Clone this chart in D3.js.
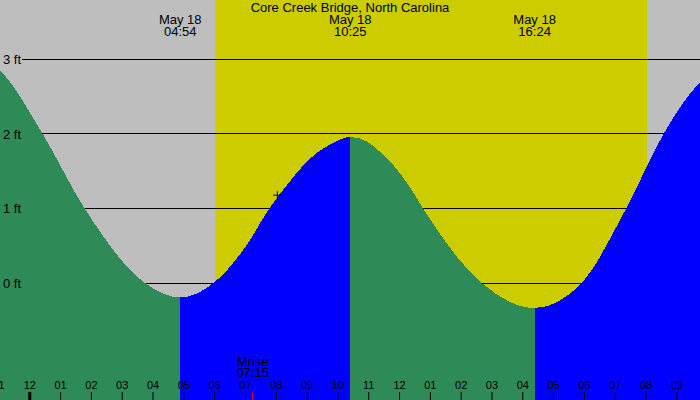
<!DOCTYPE html>
<html>
<head>
<meta charset="utf-8">
<script src="https://cdn.jsdelivr.net/npm/d3@7"></script>
<style>
  body { margin: 0; background: #fff; }
  svg { display: block; }
  text { font-family: "Liberation Sans", Arial, sans-serif; fill: #000; }
  .axis text { font-size: 11px; }
</style>
</head>
<body>
<svg id="chart"></svg>
<script>
// station
const title = "Core Creek Bridge, North Carolina";

// tide curve (time, feet); first and last points sit just outside the view
const tideTimes = ["05-17 21:55", "05-17 23:03", "05-18 00:26", "05-18 01:48", "05-18 03:46",
    "05-18 04:54", "05-18 05:58", "05-18 07:03", "05-18 07:47", "05-18 08:27", "05-18 09:03",
    "05-18 09:46", "05-18 10:25", "05-18 10:57", "05-18 11:23", "05-18 11:49", "05-18 12:21",
    "05-18 12:47", "05-18 13:26", "05-18 13:58", "05-18 14:42", "05-18 16:24", "05-18 17:55",
    "05-18 19:22", "05-18 20:35", "05-18 21:46", "05-18 23:20"];
const tideFeet = [3.08, 2.85, 2.0, 1.0, 0.0,
    -0.19, 0.0, 0.51, 1.0, 1.36, 1.65,
    1.86, 1.96, 1.90, 1.76, 1.58, 1.29,
    1.0, 0.60, 0.31, 0.0, -0.33, 0.0,
    1.0, 2.0, 2.69, 3.0];

// high / low tides
const extremeTimes = ["05-18 04:54", "05-18 10:25", "05-18 16:24"];
const extremeType = ["low", "high", "low"];

// sun and moon
const sunTimes = ["05-18 06:01", "05-18 20:03"];
const moonriseTime = "05-18 07:15";
const moonLabel = "Mrise";

// current time marker
const nowTime = "05-18 08:03";
const nowFeet = 1.18;

// axes
const viewTimes = ["05-17 23:03", "05-18 21:46"];
const firstHourTick = "05-17 23:00";
const feetTicks = [0, 1, 2, 3];

const width = 700, height = 400;
const parse = d3.timeParse("%m-%d %H:%M");

const tide = tideTimes.map((t, i) => ({ t: parse(t), h: tideFeet[i] }));
const extremes = extremeTimes.map((t, i) => ({ t: parse(t), type: extremeType[i] }));

const svg = d3.select("#chart")
    .attr("width", width)
    .attr("height", height);

const x = d3.scaleTime()
    .domain(viewTimes.map(parse))
    .range([0, width]);

const y = d3.scaleLinear()
    .domain([0, 3])
    .range([283.3, 59.3]);

// night background, then daylight band
svg.append("rect")
    .attr("width", width)
    .attr("height", height)
    .attr("fill", "#bebebe");

svg.append("rect")
    .attr("x", Math.round(x(parse(sunTimes[0]))))
    .attr("width", Math.round(x(parse(sunTimes[1]))) - Math.round(x(parse(sunTimes[0]))))
    .attr("height", height)
    .attr("fill", "#cccc00");

// gridlines (sit under the water)
svg.append("g")
    .selectAll("line")
    .data(feetTicks)
    .join("line")
    .attr("x1", 22)
    .attr("x2", width)
    .attr("y1", d => y(d))
    .attr("y2", d => y(d))
    .attr("stroke", "#000")
    .attr("shape-rendering", "crispEdges");

// water: green while falling, blue while rising
const area = d3.area()
    .x(d => x(d.t))
    .y0(height)
    .y1(d => y(d.h))
    .curve(d3.curveMonotoneX);

const bounds = [x.domain()[0], ...extremes.map(d => d.t), x.domain()[1]];
const segColor = i => {
    const end = extremes[i];
    if (end) return end.type === "low" ? "#2e8b57" : "#0000ff";
    return extremes[extremes.length - 1].type === "low" ? "#0000ff" : "#2e8b57";
};

const defs = svg.append("defs");
for (let i = 0; i < bounds.length - 1; i++) {
    const x0 = Math.round(x(bounds[i])), x1 = Math.round(x(bounds[i + 1]));
    defs.append("clipPath")
        .attr("id", "seg" + i)
        .append("rect")
        .attr("x", x0)
        .attr("width", x1 - x0 + 1)
        .attr("y", 0)
        .attr("height", height);

    svg.append("path")
        .datum(tide)
        .attr("clip-path", `url(#seg${i})`)
        .attr("fill", segColor(i))
        .attr("shape-rendering", "crispEdges")
        .attr("d", area);
}

// feet labels
svg.append("g")
    .selectAll("text")
    .data(feetTicks)
    .join("text")
    .attr("x", 3)
    .attr("y", d => y(d) + 4.7)
    .attr("font-size", "13px")
    .text(d => d + " ft");

// title
svg.append("text")
    .attr("x", width / 2)
    .attr("y", 11.7)
    .attr("text-anchor", "middle")
    .attr("font-size", "13px")
    .text(title);

// high / low labels
const fmtDay = d3.timeFormat("%b %d"), fmtTime = d3.timeFormat("%H:%M");
const ext = svg.append("g")
    .selectAll("text")
    .data(extremes)
    .join("text")
    .attr("text-anchor", "middle")
    .attr("font-size", "13px");
ext.append("tspan")
    .attr("x", d => x(d.t))
    .attr("y", 24)
    .text(d => fmtDay(d.t));
ext.append("tspan")
    .attr("x", d => x(d.t))
    .attr("y", 35.7)
    .text(d => fmtTime(d.t));

// hour axis along the bottom
const hourTicks = d3.timeHour.range(parse(firstHourTick), x.domain()[1]);
const xAxis = d3.axisTop(x)
    .tickValues(hourTicks)
    .tickSize(8)
    .tickPadding(3)
    .tickFormat(d3.timeFormat("%I"));

const xAxisG = svg.append("g")
    .attr("class", "axis")
    .attr("transform", `translate(0,${height})`)
    .call(xAxis);
xAxisG.select(".domain").remove();
xAxisG.selectAll("text").attr("fill", "#000").style("font-family", '"Liberation Sans", Arial, sans-serif');
xAxisG.selectAll(".tick line")
    .attr("stroke", "#000")
    .attr("stroke-width", d => d.getHours() === 0 ? 3 : 1);

// moonrise
const mx = x(parse(moonriseTime));
svg.append("line")
    .attr("x1", mx).attr("x2", mx)
    .attr("y1", height - 8).attr("y2", height)
    .attr("stroke", "#ff0000");
const mt = svg.append("text")
    .attr("text-anchor", "middle")
    .attr("font-size", "13px");
mt.append("tspan").attr("x", mx).attr("y", 366).text(moonLabel);
mt.append("tspan").attr("x", mx).attr("y", 377.3).text(moonriseTime.slice(6));

// now marker
const nx = x(parse(nowTime)), ny = y(nowFeet);
svg.append("path")
    .attr("d", `M${nx - 4},${ny}H${nx + 4}M${nx},${ny - 4}V${ny + 4}`)
    .attr("stroke", "#000")
    .attr("fill", "none");
</script>
</body>
</html>
